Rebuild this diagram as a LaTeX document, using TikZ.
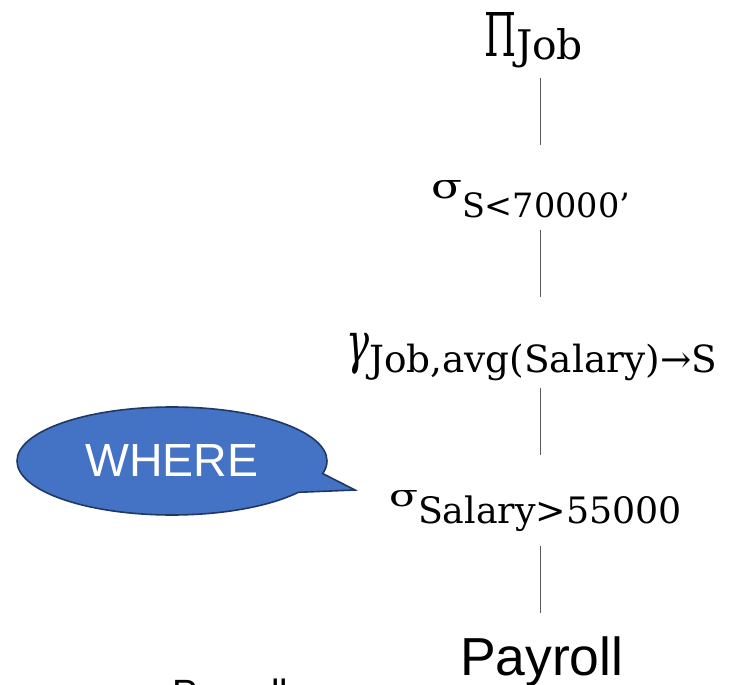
\documentclass[tikz,border=0pt]{standalone}
\usepackage{fontspec}
\usepackage{graphicx}
\usetikzlibrary{shapes.callouts}
\newfontfamily\sansf{Liberation Sans}
\newfontfamily\serf{DejaVu Serif}
\definecolor{calloutfill}{HTML}{4472C4}
\definecolor{calloutdraw}{HTML}{1F3864}
\definecolor{edgegray}{HTML}{595959}
\tikzset{
  lbl/.style={inner sep=0pt, outer sep=0pt, anchor=base west},
  edge/.style={draw=edgegray, line width=1pt},
  bubble/.style={ellipse callout, fill=calloutfill, draw=calloutdraw, line width=1.6pt,
    minimum width=310pt, minimum height=108pt, inner sep=0pt, text=white,
    font=\sansf\fontsize{46.5}{50}\selectfont, callout pointer arc=22},
  rel/.style={inner sep=0pt, outer sep=0pt, anchor=base west, font=\sansf\fontsize{53.5}{56}\selectfont},
}
\newcommand\glyph[3]{\resizebox{#1}{#2}{\serf #3}}
\newcommand\subs[3]{\raisebox{#1}{\resizebox{#2}{!}{\serf #3}}}
\begin{document}
\begin{tikzpicture}[x=1pt,y=-1pt]
\useasboundingbox (0,0) rectangle (732,685);
\node[lbl] (proj) at (484,57) {\glyph{32pt}{44pt}{Π}\subs{-3pt}{67pt}{Job}};
\node[lbl] (sel2) at (431,198) {\glyph{31pt}{18pt}{σ}\subs{-20pt}{168pt}{S<70000’}};
\node[lbl] (grp) at (346,362) {\resizebox*{23pt}{41pt}{\serf\itshape γ}\subs{-10pt}{348pt}{Job,avg(Salary)→S}};
\node[lbl] (sel1) at (389,506) {\glyph{29pt}{16pt}{σ}\subs{-17pt}{264pt}{Salary>55000}};
\node[rel] (payroll) at (460,675) {Payroll};
\node[rel, font=\sansf\fontsize{38}{40}\selectfont] (payrolltwo) at (172,706) {Payroll};
\node[bubble, callout absolute pointer={(355,490)}] (where) at (172,461) {WHERE};
\coordinate (e1a) at (540,78);  \coordinate (e1b) at (540,145);
\coordinate (e2a) at (540,230); \coordinate (e2b) at (540,297);
\coordinate (e3a) at (540,388); \coordinate (e3b) at (540,455);
\coordinate (e4a) at (540,546); \coordinate (e4b) at (540,613);
\draw[edge] (e1a) -- (e1b);
\draw[edge] (e2a) -- (e2b);
\draw[edge] (e3a) -- (e3b);
\draw[edge] (e4a) -- (e4b);
\end{tikzpicture}
\end{document}
